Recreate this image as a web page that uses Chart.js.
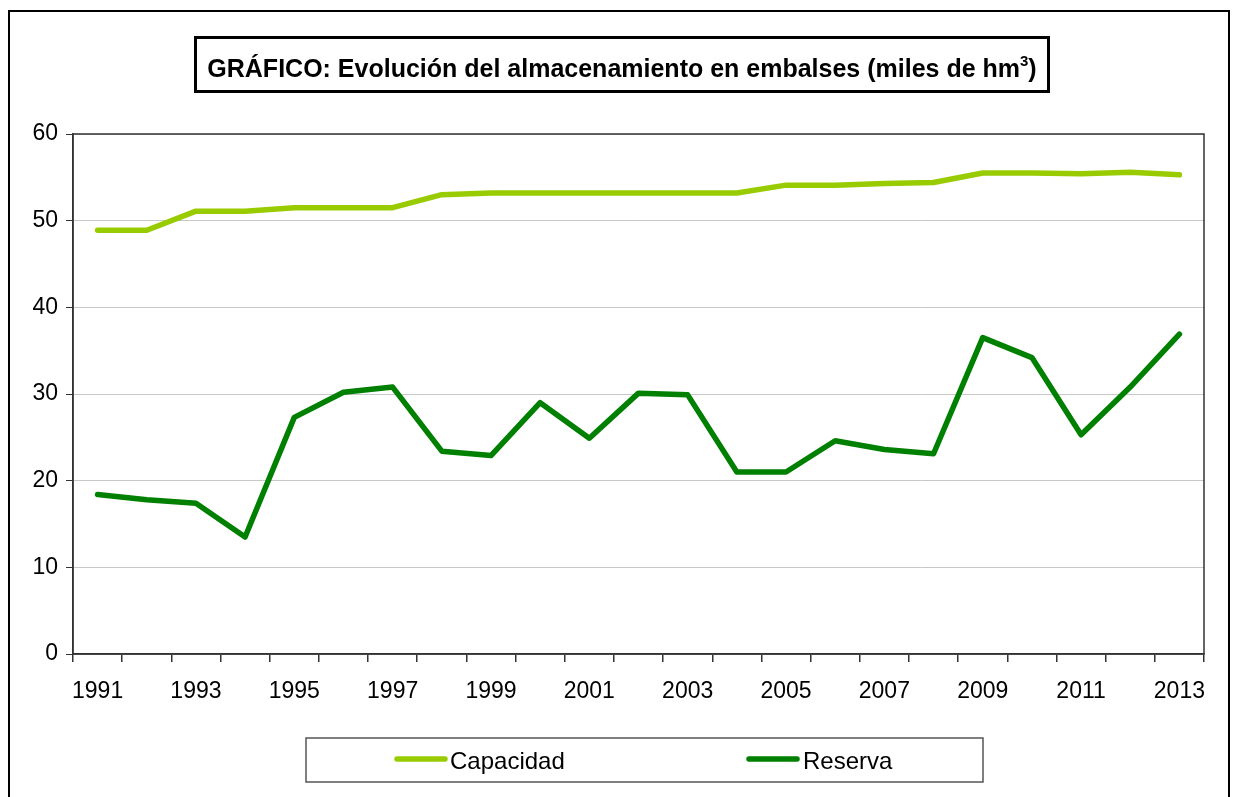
<!DOCTYPE html>
<html>
<head>
<meta charset="utf-8">
<script src="https://cdn.jsdelivr.net/npm/chart.js@4.4.0/dist/chart.umd.min.js"></script>
<style>
  body { margin: 0; background: #fff; }
  canvas { display: block; }
</style>
</head>
<body>
<canvas id="grafico" width="1237" height="797"></canvas>
<script>
// datos
const anios = ['1991','1992','1993','1994','1995','1996','1997','1998','1999','2000','2001','2002',
               '2003','2004','2005','2006','2007','2008','2009','2010','2011','2012','2013'];
const capacidad = [48.9, 48.9, 51.1, 51.1, 51.5, 51.5, 51.5, 53.0, 53.2, 53.2, 53.2, 53.2,
                   53.2, 53.2, 54.1, 54.1, 54.3, 54.4, 55.5, 55.5, 55.4, 55.6, 55.3];
const reserva = [18.4, 17.8, 17.4, 13.5, 27.3, 30.2, 30.8, 23.4, 22.9, 29.0, 24.9, 30.1,
                 29.9, 21.0, 21.0, 24.6, 23.6, 23.1, 36.5, 34.2, 25.3, 30.8, 36.9];
const titulo = 'GRÁFICO: Evolución del almacenamiento en embalses (miles de hm';

const FONT = '"Liberation Sans", Arial, sans-serif';

// marco, título y leyenda al estilo Excel
const marcoPlugin = {
    id: 'marco',
    beforeDraw(chart) {
        const ctx = chart.ctx;
        ctx.save();
        ctx.fillStyle = '#fff';
        ctx.fillRect(0, 0, chart.width, chart.height);
        ctx.strokeStyle = '#000';
        ctx.lineWidth = 2;
        ctx.strokeRect(9, 11, 1220, 800);
        ctx.restore();
    },
    afterDraw(chart) {
        const ctx = chart.ctx;
        const a = chart.chartArea;
        ctx.save();
        // borde del área de trazado
        ctx.strokeStyle = '#333';
        ctx.lineWidth = 1.5;
        ctx.strokeRect(a.left, a.top, a.right - a.left, a.bottom - a.top);

        // caja del título
        ctx.strokeStyle = '#000';
        ctx.lineWidth = 3;
        ctx.strokeRect(195.5, 37.5, 853, 54);
        ctx.fillStyle = '#000';
        ctx.textBaseline = 'alphabetic';
        ctx.font = 'bold 25px ' + FONT;
        const w1 = ctx.measureText(titulo).width;
        ctx.font = 'bold 15px ' + FONT;
        const w2 = ctx.measureText('3').width;
        ctx.font = 'bold 25px ' + FONT;
        const w3 = ctx.measureText(')').width;
        let x = 622 - (w1 + w2 + w3) / 2;
        ctx.textAlign = 'left';
        ctx.fillText(titulo, x, 77);
        x += w1;
        ctx.font = 'bold 15px ' + FONT;
        ctx.fillText('3', x, 66);
        x += w2;
        ctx.font = 'bold 25px ' + FONT;
        ctx.fillText(')', x, 77);

        // leyenda
        ctx.strokeStyle = '#555';
        ctx.lineWidth = 1.5;
        ctx.strokeRect(306, 738, 677, 44);
        const items = [[397, 445, 450], [749, 797, 803]];
        chart.data.datasets.forEach((ds, i) => {
            const it = items[i];
            ctx.strokeStyle = ds.borderColor;
            ctx.lineWidth = 5.5;
            ctx.lineCap = 'round';
            ctx.beginPath();
            ctx.moveTo(it[0], 759);
            ctx.lineTo(it[1], 759);
            ctx.stroke();
            ctx.fillStyle = '#000';
            ctx.font = '24px ' + FONT;
            ctx.fillText(ds.label, it[2], 769);
        });
        ctx.restore();
    }
};

const ctx = document.getElementById('grafico').getContext('2d');
const chart = new Chart(ctx, {
    type: 'line',
    data: {
        labels: anios,
        datasets: [
            { label: 'Capacidad', data: capacidad, borderColor: '#99CC00', borderWidth: 5.5,
              pointRadius: 0, tension: 0, borderCapStyle: 'round', borderJoinStyle: 'round' },
            { label: 'Reserva', data: reserva, borderColor: '#008000', borderWidth: 5.5,
              pointRadius: 0, tension: 0, borderCapStyle: 'round', borderJoinStyle: 'round' }
        ]
    },
    options: {
        responsive: false,
        animation: false,
        layout: { padding: { left: 0, top: 134, right: 33, bottom: 0 } },
        plugins: { legend: { display: false }, title: { display: false }, tooltip: { enabled: false } },
        scales: {
            x: {
                offset: true,
                grid: { offset: true, drawOnChartArea: false, tickLength: 8, tickColor: '#333', lineWidth: 1.5 },
                border: { color: '#333', width: 1.5 },
                ticks: {
                    autoSkip: false, maxRotation: 0, minRotation: 0, padding: 16,
                    color: '#000', font: { family: FONT, size: 23 },
                    callback: (v, i) => (i % 2 === 0 ? anios[i] : '')
                },
                afterFit: (s) => { s.height = 143; }
            },
            y: {
                min: 0, max: 60,
                grid: { color: '#c8c8c8', lineWidth: 1, tickLength: 7, tickColor: '#333' },
                border: { color: '#333', width: 1.5 },
                ticks: { stepSize: 10, padding: 8, color: '#000', font: { family: FONT, size: 23 } },
                afterFit: (s) => { s.width = 73; }
            }
        }
    },
    plugins: [marcoPlugin]
});
</script>
</body>
</html>
